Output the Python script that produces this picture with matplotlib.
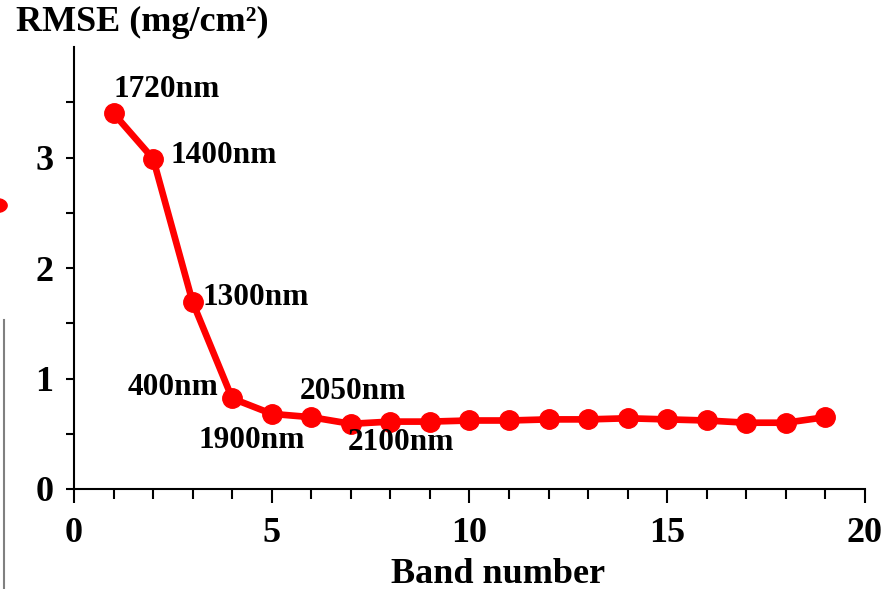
import matplotlib
matplotlib.use("Agg")
import matplotlib.pyplot as plt
from matplotlib.ticker import MultipleLocator, FixedLocator
from matplotlib.patches import Circle
from matplotlib.lines import Line2D

# band number vs RMSE
bands = list(range(1, 20))
rmse = [3.40, 2.99, 1.69, 0.82, 0.68, 0.65, 0.59, 0.61, 0.61, 0.62,
        0.62, 0.63, 0.63, 0.64, 0.63, 0.62, 0.60, 0.60, 0.65]

# wavelength labels next to the first points
labels = ['1720nm', '1400nm', '1300nm', '400nm', '1900nm', '2050nm', '2100nm']
label_x = [0.99, 2.43, 3.26, 3.64, 3.16, 5.71, 6.93]
label_y = [3.62, 3.02, 1.73, 0.92, 0.44, 0.88, 0.42]
label_ha = ['left', 'left', 'left', 'right', 'left', 'left', 'left']

plt.rcParams['font.family'] = ['Liberation Serif', 'DejaVu Serif']
plt.rcParams['font.weight'] = 'bold'

fig = plt.figure(figsize=(8.93, 5.89), dpi=100)
ax = fig.add_axes([0.0829, 0.1698, 0.8857, 0.7502])

ax.plot(bands, rmse, color='#ff0000', lw=4.8, marker='o', ms=14,
        solid_capstyle='round', clip_on=False)

for t, x, y, ha in zip(labels, label_x, label_y, label_ha):
    ax.text(x, y, t, ha=ha, va='center', fontsize=22.5, fontweight='bold')

ax.set_xlim(0, 20)
ax.set_ylim(0, 4)
ax.xaxis.set_major_locator(MultipleLocator(5))
ax.xaxis.set_minor_locator(MultipleLocator(1))
ax.yaxis.set_major_locator(FixedLocator([0, 1, 2, 3]))
ax.yaxis.set_minor_locator(FixedLocator([0.5, 1.5, 2.5, 3.5]))
ax.tick_params(axis='x', which='major', length=10, width=1.5, pad=10)
ax.tick_params(axis='x', which='minor', length=7, width=1.5)
ax.tick_params(axis='y', which='both', length=6, width=1.5, pad=9)
ax.tick_params(which='major', labelsize=26)
for lab in ax.get_xticklabels() + ax.get_yticklabels():
    lab.set_fontweight('bold')

for s in ['top', 'right']:
    ax.spines[s].set_visible(False)
for s in ['left', 'bottom']:
    ax.spines[s].set_linewidth(1.5)

ax.set_xlabel('Band number', fontsize=26, fontweight='bold')
ax.xaxis.set_label_coords(0.536, -0.194)
ax.xaxis.label.set_va('center')
fig.text(0.018, 0.962, 'RMSE (mg/cm²)', fontsize=26, fontweight='bold',
         ha='left', va='center')

# crop leftovers at the left edge of the original picture
fig.patches.append(Circle((-0.004, 0.651), 0.012, transform=fig.transFigure,
                          color='#ff0000', zorder=5))
fig.lines.append(Line2D([0.004, 0.004], [0.0, 0.457], transform=fig.transFigure,
                        color='#808080', lw=1.5))

fig.savefig('out.png', dpi=100)
